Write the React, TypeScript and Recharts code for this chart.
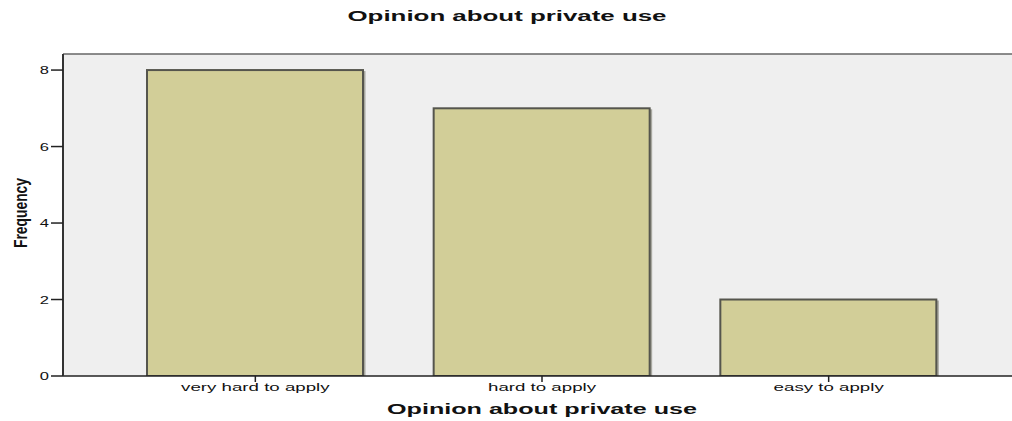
import React from 'react';
import { BarChart, Bar, XAxis, YAxis, CartesianGrid, ReferenceLine } from 'recharts';

const categories = ['very hard to apply', 'hard to apply', 'easy to apply'];
const frequencies = [8, 7, 2];
const yTicks = [0, 2, 4, 6, 8];
const yMax = 8.42;
const chartTitle = 'Opinion about private use';
const xTitle = 'Opinion about private use';
const yTitle = 'Frequency';

const data = categories.map((c, i) => ({ category: c, frequency: frequencies[i] }));

const FONT = '"Liberation Sans", Arial, sans-serif';

const BarShape = (props: any) => {
  const { x, y, width, height } = props;
  if (height <= 0) return null;
  return (
    <g>
      <rect x={x + 1} y={y + 1} width={width + 1.5} height={height - 1} fill="#a8a8a0" />
      <rect x={x} y={y} width={width} height={height} fill="#d2ce98" stroke="#55554d" strokeWidth={2} />
    </g>
  );
};

const XTick = (props: any) => {
  const { x, y, payload } = props;
  return (
    <g transform={`translate(${x},${y})`}>
      <line x1={0} y1={-8} x2={0} y2={-2} stroke="#222" strokeWidth={1.5} />
      <text
        x={0}
        y={7}
        textAnchor="middle"
        transform="scale(1.7,1)"
        fontFamily={FONT}
        fontSize={11}
        fill="#111"
      >
        {payload.value}
      </text>
    </g>
  );
};

const YTick = (props: any) => {
  const { x, y, payload } = props;
  return (
    <g transform={`translate(${x},${y})`}>
      <text x={0} y={4} textAnchor="end" transform="scale(1.5,1)" fontFamily={FONT} fontSize={11} fill="#111">
        {payload.value}
      </text>
    </g>
  );
};

export default function App() {
  return (
    <div style={{ position: 'fixed', left: 0, top: 0, width: 1012, height: 421, overflow: 'hidden', background: '#fff' }}>
      <div style={{ position: 'absolute', left: 0, top: 0 }}>
        <BarChart
          width={1040}
          height={421}
          data={data}
          margin={{ top: 54, right: 19, left: 13, bottom: 15 }}
          barSize={216}
        >
          <CartesianGrid horizontal={false} vertical={false} fill="#efefef" />
          <ReferenceLine y={yMax} stroke="#666" strokeWidth={1.5} ifOverflow="extendDomain" />
          <XAxis
            dataKey="category"
            height={30}
            padding={{ left: 49, right: 49 }}
            axisLine={{ stroke: '#222', strokeWidth: 1.5 }}
            tickLine={false}
            tick={<XTick />}
            interval={0}
          />
          <YAxis
            width={50}
            domain={[0, yMax]}
            ticks={yTicks}
            allowDataOverflow
            axisLine={{ stroke: '#333', strokeWidth: 2 }}
            tickLine={{ stroke: '#222', strokeWidth: 1.5 }}
            tickSize={12}
            tickMargin={2}
            tick={<YTick />}
          />
          <Bar dataKey="frequency" isAnimationActive={false} shape={<BarShape />} />
        </BarChart>
      </div>
      <svg width={1012} height={421} style={{ position: 'absolute', left: 0, top: 0, pointerEvents: 'none' }}>
        <text x={507} y={21} textAnchor="middle" fontFamily={FONT} fontWeight="bold" fontSize={14} fill="#111" textLength={319} lengthAdjust="spacingAndGlyphs">
          {chartTitle}
        </text>
        <text x={542} y={414} textAnchor="middle" fontFamily={FONT} fontWeight="bold" fontSize={15} fill="#111" textLength={310} lengthAdjust="spacingAndGlyphs">
          {xTitle}
        </text>
        <text
          x={0}
          y={0}
          transform="translate(27,213) rotate(-90)"
          textAnchor="middle"
          fontFamily={FONT}
          fontWeight="bold"
          fontSize={18}
          fill="#111"
          textLength={70}
          lengthAdjust="spacingAndGlyphs"
        >
          {yTitle}
        </text>
      </svg>
    </div>
  );
}
